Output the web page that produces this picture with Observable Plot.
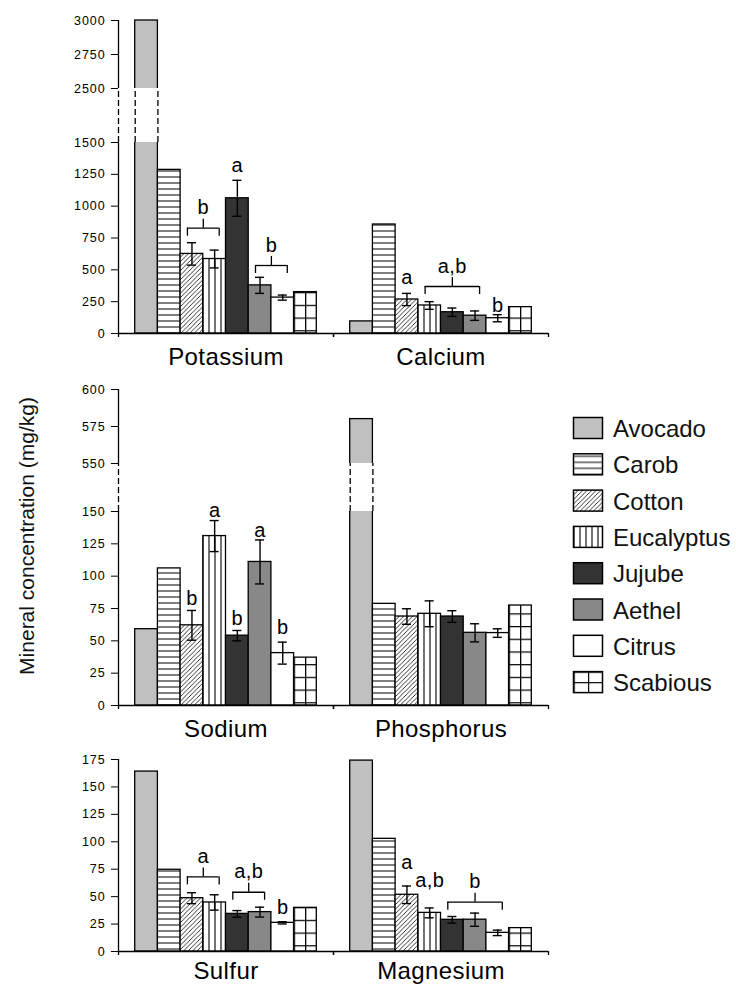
<!DOCTYPE html>
<html><head><meta charset="utf-8">
<script src="https://cdn.jsdelivr.net/npm/d3@7"></script>
<script src="https://cdn.jsdelivr.net/npm/@observablehq/plot@0.6"></script>
<style>
html,body{margin:0;padding:0;background:#fff;}
#root{position:relative;width:736px;height:984px;overflow:hidden;font-family:"Liberation Sans",Arial,sans-serif;}
.panel{position:absolute;left:0;}
.panel g[aria-label="y-axis tick label"]{font-size:12.5px;letter-spacing:0.9px;}
</style></head><body>
<div id="root"></div>
<script>
// ---------- data ----------
const plants = ["Avocado","Carob","Cotton","Eucalyptus","Jujube","Aethel","Citrus","Scabious"];
const minerals = ["Potassium","Calcium","Sodium","Phosphorus","Sulfur","Magnesium"];

const potassium    = [3000, 1285, 625, 585, 1062, 378, 282, 325];
const potassiumErr = [null, null, 88, 70, 141, 63, 20, null];
const calcium      = [95, 856, 267, 220, 167, 140, 120, 207];
const calciumErr   = [null, null, 48, 30, 33, 37, 28, null];
const sodium       = [59, 106, 62, 131, 54, 111, 40.5, 37];
const sodiumErr    = [null, null, 11.5, 12, 4, 17, 8.5, null];
const phosphorus   = [580, 78.6, 68.8, 70.9, 68.8, 56.2, 56, 77.3];
const phosphorusErr= [null, null, 6, 10, 4.5, 7, 3.3, null];
const sulfur       = [164, 74.5, 48.6, 44.7, 34.3, 35.9, 26.1, 39.8];
const sulfurErr    = [null, null, 5, 7, 3, 4.5, 1, null];
const magnesium    = [174, 102.7, 51.7, 35.2, 28.9, 29, 17, 21.3];
const magnesiumErr = [null, null, 8, 4.5, 3, 6, 2.5, null];

const ticksTop = [0,250,500,750,1000,1250,1500,2500,2750,3000];
const ticksMid = [0,25,50,75,100,125,150,550,575,600];
const ticksBot = [0,25,50,75,100,125,150,175];

// significance letters above single bars (y = baseline value)
const letters = [
  {mineral:"Potassium", plant:"Jujube", y:1267, label:"a"},
  {mineral:"Calcium", plant:"Cotton", y:385, label:"a"},
  {mineral:"Calcium", plant:"Citrus", y:165, label:"b"},
  {mineral:"Sodium", plant:"Cotton", y:78, label:"b"},
  {mineral:"Sodium", plant:"Eucalyptus", y:146, label:"a"},
  {mineral:"Sodium", plant:"Jujube", y:62, label:"b"},
  {mineral:"Sodium", plant:"Aethel", y:130, label:"a"},
  {mineral:"Sodium", plant:"Citrus", y:55, label:"b"},
  {mineral:"Sulfur", plant:"Citrus", y:34, label:"b"},
  {mineral:"Magnesium", plant:"Cotton", y:75, label:"a"},
  {mineral:"Magnesium", plant:"Eucalyptus", y:59, label:"a,b"}
];
// brackets grouping bars
const brackets = [
  {mineral:"Potassium", from:"Cotton", to:"Eucalyptus", y:827, label:"b"},
  {mineral:"Potassium", from:"Aethel", to:"Citrus", y:534, label:"b"},
  {mineral:"Calcium", from:"Eucalyptus", to:"Aethel", y:369, label:"a,b"},
  {mineral:"Sulfur", from:"Cotton", to:"Eucalyptus", y:68, label:"a"},
  {mineral:"Sulfur", from:"Jujube", to:"Aethel", y:54, label:"a,b"},
  {mineral:"Magnesium", from:"Jujube", to:"Citrus", y:45, label:"b"}
];

// ---------- styles ----------
const fills = {
  Avocado:"#c0c0c0", Carob:"url(#pat-carob)", Cotton:"url(#pat-cotton)",
  Eucalyptus:"url(#pat-euc)", Jujube:"#333333", Aethel:"#888888",
  Citrus:"#ffffff", Scabious:"url(#pat-scab)"
};
const legendFills = {...fills, Scabious:"url(#pat-scab-leg)"};

const root = document.getElementById("root");
root.insertAdjacentHTML("beforeend", `
<svg width="0" height="0" style="position:absolute;left:0;top:0">
 <defs>
  <pattern id="pat-carob" patternUnits="userSpaceOnUse" width="10" height="6">
    <rect width="10" height="6" fill="#fff"/><path d="M0,3H10" stroke="#000" stroke-width="1"/>
  </pattern>
  <pattern id="pat-cotton" patternUnits="userSpaceOnUse" width="4.5" height="4.5">
    <rect width="4.5" height="4.5" fill="#fff"/>
    <path d="M0,4.5L4.5,0M-1,1L1,-1M3.5,5.5L5.5,3.5" stroke="#000" stroke-width="0.8"/>
  </pattern>
  <pattern id="pat-euc" patternUnits="userSpaceOnUse" width="6" height="10">
    <rect width="6" height="10" fill="#fff"/><path d="M4,0V10" stroke="#000" stroke-width="1.1"/>
  </pattern>
  <pattern id="pat-scab" patternUnits="userSpaceOnUse" x="8.3" width="11.375" height="12.7">
    <rect width="11.375" height="12.7" fill="#fff"/><path d="M0.6,0V12.7M0,0.6H11.375" stroke="#000" stroke-width="1.3"/>
  </pattern>
  <pattern id="pat-scab-leg" patternUnits="objectBoundingBox" width="0.5" height="0.5">
    <rect width="40" height="40" fill="#fff"/><path d="M0,0V40M0,0H40" stroke="#000" stroke-width="2.4"/>
  </pattern>
 </defs>
</svg>`);

const idx = Object.fromEntries(plants.map((p, i) => [p, i]));
const pad = 0.736;

const panels = [
  {minerals:["Potassium","Calcium"], values:[potassium, calcium], errors:[potassiumErr, calciumErr],
   ticks:ticksTop, domain:[0,1500,2500,3000], range:[333,142,88,20], brk:[1500,2500], top:0, height:372, labelDy:31.5},
  {minerals:["Sodium","Phosphorus"], values:[sodium, phosphorus], errors:[sodiumErr, phosphorusErr],
   ticks:ticksMid, domain:[0,150,550,600], range:[333,139,91,17], brk:[150,550], top:372, height:370, labelDy:31},
  {minerals:["Sulfur","Magnesium"], values:[sulfur, magnesium], errors:[sulfurErr, magnesiumErr],
   ticks:ticksBot, domain:[0,175], range:[209,17], brk:null, top:742, height:242, labelDy:27}
];

const sw = 1.3;
for (const p of panels) {
  const rows = p.minerals.flatMap((m, g) => plants.map((plant, i) => ({
    mineral: m, plant, i, value: p.values[g][i], err: p.errors[g][i]
  })));
  const topVal = p.domain[p.domain.length - 1];
  const withErr = rows.filter(d => d.err != null);
  const caps = withErr.flatMap(d => [{...d, yv: d.value - d.err}, {...d, yv: d.value + d.err}]);
  const br = brackets.filter(b => p.minerals.includes(b.mineral)).map(b => ({
    ...b, a: idx[b.from] + 0.5 - 0.2, b2: idx[b.to] + 0.5 + 0.2, c: (idx[b.from] + idx[b.to]) / 2 + 0.5
  }));
  const brEnds = br.flatMap(b => [{...b, ex: b.a}, {...b, ex: b.b2}]);
  const lets = letters.filter(l => p.minerals.includes(l.mineral));
  const broken = p.brk ? rows.filter(d => d.value > p.brk[1]) : [];
  const brokenEdges = broken.flatMap(d => [{...d, edge: d.i}, {...d, edge: d.i + 1}]);
  const axisSolid = p.brk ? [[0, p.brk[0]], [p.brk[1], topVal]] : [[0, topVal]];
  const axisDashed = p.brk ? [p.brk] : [];

  const marks = [
    Plot.rectY(rows, {fx:"mineral", x1: d => d.i, x2: d => d.i + 1, y1: 0, y2: "value",
      fill: d => fills[d.plant], stroke: "black", strokeWidth: sw}),
  ];
  if (p.brk) {
    marks.push(
      Plot.rectY(broken, {fx:"mineral", x1: d => d.i, x2: d => d.i + 1, y1: p.brk[0], y2: p.brk[1],
        fill: "white", insetLeft: -1.5, insetRight: -1.5}),
      Plot.ruleX(brokenEdges, {fx:"mineral", x:"edge", y1: p.brk[0], y2: p.brk[1], strokeDasharray: "6,3", strokeWidth: sw}),
      Plot.ruleX(axisDashed, {fx: () => p.minerals[0], x: () => -pad, y1: d => d[0], y2: d => d[1], strokeDasharray: "6,3", strokeWidth: sw})
    );
  }
  marks.push(
    Plot.ruleX(axisSolid, {fx: () => p.minerals[0], x: () => -pad, y1: d => d[0], y2: d => d[1], strokeWidth: sw}),
    Plot.ruleY([0], {strokeWidth: sw}),
    Plot.ruleX([-pad, 8 + pad], {x: d => d, y1: 0, y2: 0, insetBottom: -4, strokeWidth: sw}),
    Plot.ruleX(withErr, {fx:"mineral", x: d => d.i + 0.5, y1: d => d.value - d.err, y2: d => d.value + d.err, strokeWidth: 1.4}),
    Plot.ruleY(caps, {fx:"mineral", x1: d => d.i + 0.3, x2: d => d.i + 0.7, y: "yv", strokeWidth: 1.4}),
    Plot.ruleY(br, {fx:"mineral", x1:"a", x2:"b2", y:"y", strokeWidth: sw}),
    Plot.ruleX(brEnds, {fx:"mineral", x:"ex", y1:"y", y2:"y", insetBottom: -8, strokeWidth: sw}),
    Plot.ruleX(br, {fx:"mineral", x:"c", y1:"y", y2:"y", insetTop: -9, strokeWidth: sw}),
    Plot.text(br, {fx:"mineral", x:"c", y:"y", text:"label", dy: -14, lineAnchor:"bottom", fontSize: 20}),
    Plot.text(lets, {fx:"mineral", x: d => idx[d.plant] + 0.5, y:"y", text:"label", lineAnchor:"bottom", fontSize: 20}),
    Plot.text(p.minerals, {fx: d => d, text: d => d, frameAnchor:"bottom", lineAnchor:"bottom", dy: p.labelDy, fontSize: 24})
  );

  const chart = Plot.plot({
    width: 736, height: p.height,
    marginLeft: 117, marginRight: 188, marginTop: 10, marginBottom: p.height - p.range[0],
    style: {fontFamily: "'Liberation Sans', Arial, sans-serif", fontSize: "12px", background: "transparent",
            color: "black", letterSpacing: "0.4px", overflow: "visible"},
    x: {domain: [-pad, 8 + pad], axis: null},
    y: {type: "linear", domain: p.domain, range: p.range, ticks: p.ticks, tickFormat: d3.format("d"),
        tickSize: 7, tickPadding: 6, label: null},
    fx: {domain: p.minerals, padding: 0, axis: null},
    color: {type: "identity"},
    marks
  });
  chart.classList.add("panel");
  chart.style.top = p.top + "px";
  root.appendChild(chart);
}

// ---------- y-axis title ----------
root.insertAdjacentHTML("beforeend", `
<svg width="736" height="984" style="position:absolute;left:0;top:0;pointer-events:none">
  <text transform="translate(34,536) rotate(-90)" text-anchor="middle"
    font-family="'Liberation Sans', Arial, sans-serif" font-size="21" fill="#111">Mineral concentration (mg/kg)</text>
</svg>`);

// ---------- legend ----------
const leg = d3.select(root).append("svg")
  .attr("width", 166).attr("height", 300)
  .style("position", "absolute").style("left", "570px").style("top", "405px");
const item = leg.selectAll("g").data(plants).join("g")
  .attr("transform", (d, i) => `translate(0,${12 + i * 36.3})`);
item.append("rect").attr("x", 3.5).attr("y", 0.5).attr("width", 29).attr("height", 21)
  .attr("fill", d => legendFills[d]).attr("stroke", "black").attr("stroke-width", 1.5);
item.append("text").attr("x", 43).attr("y", 20).text(d => d)
  .attr("font-family", "'Liberation Sans', Arial, sans-serif").attr("font-size", 24).attr("fill", "#111");
</script>
</body></html>
